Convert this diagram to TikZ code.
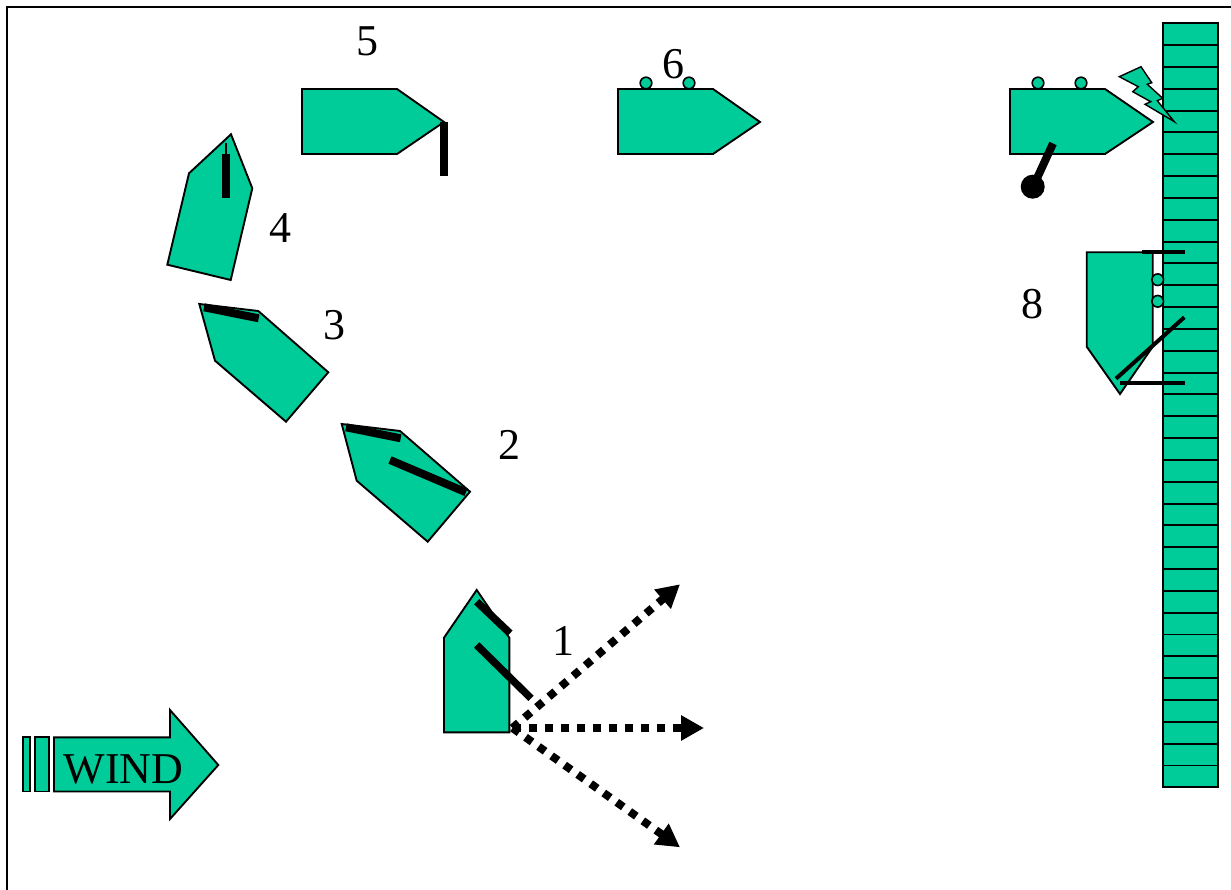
\documentclass[tikz,border=0pt]{standalone}
\usepackage{fontspec}
\setmainfont{Liberation Serif}
\usetikzlibrary{arrows.meta}
\definecolor{hull}{HTML}{00CC99}
\tikzset{
  hullshape/.style={draw=black,fill=hull,line width=1.9pt,line join=miter},
  sailbar/.style={draw=black,line width=#1},
  sailbar/.default=6pt,
  crew/.style={draw=black,fill=hull,line width=1.6pt},
  numlabel/.style={font=\fontsize{44}{44}\selectfont,inner sep=0pt,text=black},
  dotarrow/.style={draw=black,line width=8pt,dash pattern=on 8pt off 8pt,
    -{Triangle[length=23pt,width=24pt]}}
}
\begin{document}
\begin{tikzpicture}[x=1pt,y=-1pt]
\useasboundingbox (0,0) rectangle (1231,890);
\fill[white] (0,0) rectangle (1231,890);
% frame
\draw[line width=1.8pt] (7,890) -- (7,7) -- (1231,7);
% pier
\draw[hullshape] (1163,23.3) rectangle (1218,787);
\foreach \k in {1,...,34}{
  \draw[line width=1.9pt] (1163,23.3+21.83*\k) -- (1218,23.3+21.83*\k);
}
% wind
\draw[hullshape] (23.3,737.3) rectangle (30,791.5);
\draw[hullshape] (35.3,737.3) rectangle (48.7,791.5);
\draw[hullshape] (54,737.3) -- (170,737.3) -- (170,710) -- (218.3,765) -- (170,819) -- (170,791.5) -- (54,791.5) -- cycle;
\node[numlabel] (windlabel) at (123.5,769) {WIND};
% boat 1
\draw[hullshape] (476.7,590) -- (509.3,637.7) -- (509.3,732.3) -- (444,732.3) -- (444,637.7) -- cycle;
\draw[sailbar=7.5pt] (476.7,601.7) -- (510,633.3);
\draw[sailbar=7.5pt] (476.7,645) -- (531,698.3);
\coordinate (origin) at (512.5,728);
\coordinate (tipup) at (680,584.3);
\coordinate (tipmid) at (704,728);
\coordinate (tipdown) at (680,847.3);
\draw[dotarrow] (origin) -- (tipup);
\draw[dotarrow] (origin) -- (tipmid);
\draw[dotarrow] (origin) -- (tipdown);
\node[numlabel] (n1) at (563,641) {1};
% boat 2
\draw[hullshape] (341.7,424) -- (400,431) -- (470,491.7) -- (427.7,541.7) -- (356.7,480.7) -- cycle;
\draw[sailbar=8pt] (346,427.3) -- (400.7,438.3);
\draw[sailbar=8pt] (390,460) -- (466,492.3);
\node[numlabel] (n2) at (509,445) {2};
% boat 3
\draw[hullshape] (199.3,304) -- (258.3,311) -- (328.3,372.3) -- (286,421.7) -- (215,360.7) -- cycle;
\draw[sailbar=8pt] (204,307.3) -- (258.7,318.3);
\node[numlabel] (n3) at (334,325) {3};
% boat 4
\draw[hullshape] (231,134.3) -- (252.3,188.3) -- (230.7,280) -- (167.3,264.7) -- (189,173.3) -- cycle;
\draw[sailbar=8pt] (226,154.3) -- (226,197.7);
\draw[sailbar=1.4pt] (226,143) -- (226,154.3);
\node[numlabel] (n4) at (280,228) {4};
% boat 5
\draw[hullshape] (302,89) -- (397,89) -- (444,122) -- (397,154) -- (302,154) -- cycle;
\draw[sailbar=8pt] (444,122) -- (444,176);
\node[numlabel] (n5) at (367,41) {5};
% boat 6
\draw[crew] (646,83) circle (5.8);
\draw[crew] (689,83) circle (5.8);
\draw[hullshape] (618,89) -- (713,89) -- (760,122) -- (713,154) -- (618,154) -- cycle;
\node[numlabel] (n6) at (673,64) {6};
% boat 7
\draw[crew] (1038,83) circle (5.8);
\draw[crew] (1081,83) circle (5.8);
\draw[hullshape] (1010,89) -- (1105,89) -- (1153,122) -- (1105,154) -- (1010,154) -- cycle;
\draw[sailbar=8pt] (1053,143.5) -- (1033,187);
\fill[black] (1032.7,186.7) circle (12);
% bolt
\draw[hullshape,line width=1.4pt] (1119.3,76.7) -- (1141,66.7) -- (1151.7,82.7) -- (1147.3,84.3) -- (1162.7,98.3) -- (1157.3,100.7) -- (1174.3,121.7) -- (1145,104.3) -- (1150.7,101.7) -- (1132.7,91.7) -- (1138.3,86.7) -- cycle;
% boat 8
\draw[hullshape] (1086.7,252.3) -- (1152.7,252.3) -- (1152.7,346.7) -- (1120,394) -- (1086.7,346.7) -- cycle;
\draw[crew] (1157.7,279.7) circle (5.8);
\draw[crew] (1157.7,301.3) circle (5.8);
\draw[sailbar=4pt] (1141.7,252.3) -- (1185,252.3);
\draw[sailbar=4pt] (1120,383.3) -- (1185,383.3);
\draw[sailbar=4pt] (1116,378.7) -- (1184.3,317.3);
\node[numlabel] (n8) at (1032,304) {8};
\end{tikzpicture}
\end{document}
